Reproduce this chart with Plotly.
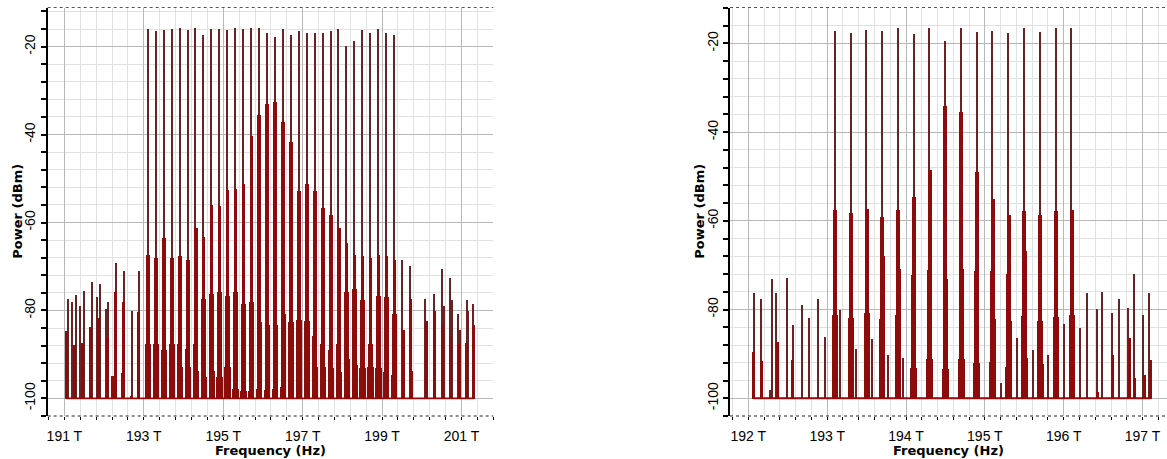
import plotly.graph_objects as go

FLOOR = -100.0

# ---------------- Spectrum A: 32-channel comb, 191-202 THz ----------------
A_CH_FREQ = [193.1, 193.3, 193.5, 193.7, 193.9, 194.1, 194.3, 194.5, 194.7, 194.9,
             195.1, 195.3, 195.5, 195.7, 195.9, 196.1, 196.3, 196.5, 196.7, 196.9,
             197.1, 197.3, 197.5, 197.7, 197.9, 198.1, 198.3, 198.5, 198.7, 198.9,
             199.1, 199.3]
A_CH_PEAK = [-15.8, -16.4, -16.2, -15.8, -15.6, -16.0, -15.6, -17.2, -15.8, -15.8,
             -16.2, -15.6, -15.8, -15.6, -15.6, -16.7, -17.6, -15.8, -17.3, -16.4,
             -16.7, -16.7, -16.7, -16.4, -15.8, -19.8, -18.6, -16.2, -16.7, -15.8,
             -16.7, -17.3]
A_CH_L2 = [-67.2, -67.9, -63.4, -67.9, -67.6, -68.4, -61.1, -63.2, -56.0, -56.2,
           -52.6, -52.3, -51.1, -40.3, -35.5, -32.9, -32.5, -37.1, -41.6, -52.8,
           -51.1, -52.8, -56.5, -58.1, -61.1, -64.6, -67.2, -67.6, -67.9, -67.2,
           -67.6, -68.4]
A_CH_L3 = [None, None, None, None, None, -76.1, -75.7, -77.2, -76.1, -75.7,
           -76.5, -75.7, -78.4, -78.0, None, None, None, None, -76.5, -75.5,
           -76.1, -76.0, -75.7, -75.4, -77.2, -75.7, -75.0, -77.6, None, -76.5,
           -76.8, None]
A_CH_L4 = [-87.5, -87.4, -88.8, -87.6, -87.4, -88.6, -87.6, -89.2, -89.3, -88.0,
           -82.3, -82.3, -82.3, -81.4, -82.6, -83.3, -83.2, -80.8, -82.6, -82.0,
           -82.3, -85.6, -87.4, -88.8, -87.4, -88.8, -87.0, -87.4, -87.4, -87.7,
           -89.7, -80.6]
A_CH_L5 = [-92.4, -92.7, -93.0, -92.8, -92.7, -92.8, -93.6, -95.1, -93.6, -95.1,
           -92.8, -97.7, -98.1, -98.1, -97.7, -97.9, -97.7, -97.4, -98.6, -97.7,
           -98.1, -92.8, -92.8, -93.0, -93.8, -90.9, -92.4, -93.0, -92.8, -93.0,
           -93.8, -94.6]

# mixing products outside the channel band
A_SIDE_FREQ = [191.10, 191.20, 191.29, 191.40, 191.49, 191.69, 191.83, 191.90,
               192.05, 192.10, 192.29, 192.49, 192.69, 192.89,
               199.51, 199.70, 200.09, 200.30, 200.50, 200.55, 200.72, 200.76,
               200.91, 200.96, 201.13, 201.17, 201.29]
A_SIDE_PWR = [-77.3, -77.9, -76.4, -78.8, -75.4, -73.5, -76.9, -73.9,
              -79.5, -78.0, -69.1, -70.8, -79.9, -71.0,
              -68.5, -69.7, -77.2, -76.1, -70.4, -78.8, -72.6, -77.6,
              -80.7, -84.4, -77.5, -79.9, -78.4]
A_SIDE_BLOCK_FREQ = [191.05, 191.24, 191.45, 191.65, 191.86, 192.07, 192.21, 192.27,
                     192.45, 192.48, 192.68, 192.87,
                     199.52, 199.72, 199.74, 200.10, 200.31, 200.51, 200.71, 200.93,
                     201.12, 201.30]
A_SIDE_BLOCK_PWR = [-84.6, -87.7, -87.2, -83.6, -81.6, -86.2, -94.8, -75.7,
                    -94.2, -78.0, -99.3, -80.3,
                    -84.4, -77.2, -93.6, -82.2, -79.9, -83.2, -85.6, -87.5,
                    -87.3, -83.3]

A_TICKS = [191, 193, 195, 197, 199, 201]
A_TICK_TEXT = ["191 T", "193 T", "195 T", "197 T", "199 T", "201 T"]

# ---------------- Spectrum B: 16-channel comb, 192-197 THz ----------------
B_CH_FREQ = [193.1, 193.3, 193.5, 193.7, 193.9, 194.1, 194.3, 194.5, 194.7, 194.9,
             195.1, 195.3, 195.5, 195.7, 195.9, 196.1]
B_CH_PEAK = [-17.0, -17.5, -16.8, -17.0, -16.4, -17.7, -16.4, -19.4, -16.4, -17.2,
             -17.0, -17.5, -16.4, -17.2, -16.4, -16.4]
B_CH_L2 = [-57.4, -58.2, -57.2, -59.1, -57.4, -54.6, -48.4, -34.1, -35.3, -48.9,
           -54.9, -58.5, -57.6, -58.5, -57.6, -57.4]
B_CH_L3 = [None, None, None, -67.9, -70.7, -72.2, -70.9, -73.0, -70.7, -71.2,
           -71.2, -71.8, -66.6, None, None, None]
B_CH_L4 = [-81.2, -81.7, -80.7, -82.0, -81.2, None, None, None, None, None,
           -82.0, -82.4, -81.4, -82.4, -81.5, -81.2]
B_CH_L5 = [None, None, None, None, None, -93.0, -91.1, -93.4, -91.1, -92.0,
           -91.8, -92.9, -90.8, -92.1, None, None]

B_SIDE_FREQ = [192.08, 192.16, 192.28, 192.30, 192.36, 192.49, 192.57, 192.69,
               192.77, 192.89, 192.97, 193.17, 193.37, 193.53, 193.57, 193.77,
               193.96, 195.21, 195.41, 195.61, 195.81, 196.01, 196.21, 196.30,
               196.42, 196.49, 196.61, 196.70, 196.82, 196.89, 197.01, 197.09]
B_SIDE_PWR = [-76.2, -77.5, -98.0, -72.9, -76.2, -72.7, -83.3, -78.8,
              -81.8, -77.5, -86.0, -80.1, -88.7, -92.6, -86.6, -90.2,
              -90.8, -96.4, -86.4, -89.0, -90.2, -83.1, -84.0, -76.2,
              -79.8, -76.0, -80.7, -77.5, -79.6, -71.8, -81.2, -76.2]
B_SIDE_BLOCK_FREQ = [192.07, 192.17, 192.37, 192.56, 196.43, 196.62, 196.83,
                     196.90, 197.02, 197.10]
B_SIDE_BLOCK_PWR = [-89.5, -91.5, -87.2, -91.2, -98.5, -90.1, -86.4,
                    -95.4, -94.7, -91.2]

B_TICKS = [192, 193, 194, 195, 196, 197]
B_TICK_TEXT = ["192 T", "193 T", "194 T", "195 T", "196 T", "197 T"]

LINE_COLOR = "#6a2222"
BLOCK_COLOR = "#8c0b0b"


def add_bars(fig, freqs, powers, width, color, xa, ya):
    pts = [(f, p) for f, p in zip(freqs, powers) if p is not None]
    if not pts:
        return
    fig.add_trace(go.Bar(
        x=[f for f, _ in pts],
        y=[p - FLOOR for _, p in pts],
        base=FLOOR,
        width=width,
        marker=dict(color=color, line=dict(width=0)),
        xaxis=xa, yaxis=ya,
        showlegend=False, hoverinfo="skip",
    ))


def add_spectrum(fig, ch_f, levels, side_f, side_p, blk_f, blk_p, px, widths, xa, ya):
    # px: data units per screen pixel on this x axis; widths in pixels
    w_line, w_side, w2, w3, w4, w5 = widths
    all_f = ch_f + side_f + blk_f
    fig.add_trace(go.Scatter(
        x=[min(all_f), max(all_f)], y=[FLOOR, FLOOR], mode="lines",
        line=dict(color=BLOCK_COLOR, width=1.8), xaxis=xa, yaxis=ya,
        showlegend=False, hoverinfo="skip",
    ))
    add_bars(fig, side_f, side_p, w_line * px, LINE_COLOR, xa, ya)
    add_bars(fig, blk_f, blk_p, w_side * px, BLOCK_COLOR, xa, ya)
    peak, l2, l3, l4, l5 = levels
    add_bars(fig, ch_f, peak, w_line * px, LINE_COLOR, xa, ya)
    add_bars(fig, ch_f, l2, w2 * px, BLOCK_COLOR, xa, ya)
    add_bars(fig, ch_f, l3, w3 * px, BLOCK_COLOR, xa, ya)
    add_bars(fig, ch_f, l4, w4 * px, BLOCK_COLOR, xa, ya)
    add_bars(fig, ch_f, l5, w5 * px, BLOCK_COLOR, xa, ya)


W, H = 1167, 459
A_DOM = [47.7 / W, 493.3 / W]
B_DOM = [730.0 / W, 1.0]
Y_DOM = [(H - 416.0) / H, (H - 7.5) / H]
A_XR = [190.58, 201.80]
B_XR = [191.768, 197.31]
A_PX = (A_XR[1] - A_XR[0]) / (493.3 - 47.7)
B_PX = (B_XR[1] - B_XR[0]) / (W - 730.0)

fig = go.Figure()
add_spectrum(fig, A_CH_FREQ, (A_CH_PEAK, A_CH_L2, A_CH_L3, A_CH_L4, A_CH_L5),
             A_SIDE_FREQ, A_SIDE_PWR, A_SIDE_BLOCK_FREQ, A_SIDE_BLOCK_PWR,
             A_PX, (1.5, 3.0, 3.6, 4.4, 5.2, 6.2), "x", "y")
add_spectrum(fig, B_CH_FREQ, (B_CH_PEAK, B_CH_L2, B_CH_L3, B_CH_L4, B_CH_L5),
             B_SIDE_FREQ, B_SIDE_PWR, B_SIDE_BLOCK_FREQ, B_SIDE_BLOCK_PWR,
             B_PX, (1.5, 2.8, 4.0, 5.0, 6.0, 7.0), "x2", "y2")

TICK_FONT = dict(family="Liberation Sans, Arial, sans-serif", size=14, color="#000")
TITLE_FONT = dict(family="DejaVu Sans, Verdana, sans-serif", size=13, color="#000")
MAJOR_GRID = "#b8b8b8"
MINOR_GRID = "#e1e1e1"


def x_axis(dom, rng, ticks, text, minor_step, anchor):
    return dict(
        domain=dom, range=rng, anchor=anchor,
        tickmode="array", tickvals=ticks, ticktext=text,
        showgrid=True, gridcolor=MAJOR_GRID, gridwidth=1,
        showline=False, zeroline=False,
        ticks="outside", ticklen=3, tickcolor="#000", tickwidth=1,
        tickfont=TICK_FONT, ticklabelstandoff=4,
        minor=dict(dtick=minor_step, tick0=ticks[0], showgrid=True,
                   gridcolor=MINOR_GRID, gridwidth=1, ticks="outside",
                   ticklen=3, tickcolor="#000"),
    )


def y_axis(rng, anchor):
    return dict(
        domain=Y_DOM, range=rng, anchor=anchor,
        tickmode="array", tickvals=[-100, -80, -60, -40, -20],
        ticktext=["-100", "-80", "-60", "-40", "-20"], tickangle=-90,
        showgrid=True, gridcolor=MAJOR_GRID, gridwidth=1,
        showline=True, linecolor="#000", linewidth=1.5,
        zeroline=False,
        ticks="outside", ticklen=5, tickcolor="#000", tickwidth=1.5,
        tickfont=TICK_FONT,
        minor=dict(dtick=4, tick0=-100, showgrid=True, gridcolor=MINOR_GRID,
                   gridwidth=1, ticks="outside", ticklen=5, tickcolor="#000"),
    )


fig.update_layout(
    width=W, height=H,
    margin=dict(l=0, r=0, t=0, b=0),
    paper_bgcolor="#fff", plot_bgcolor="#fff",
    barmode="overlay", bargap=0,
    xaxis=x_axis(A_DOM, A_XR, A_TICKS, A_TICK_TEXT, 0.4, "y"),
    yaxis=y_axis([-104.0, -11.1], "x"),
    xaxis2=x_axis(B_DOM, B_XR, B_TICKS, B_TICK_TEXT, 0.2, "y2"),
    yaxis2=y_axis([-104.0, -11.9], "x2"),
)

# dotted frame lines along the top and bottom of each plot
for xr, yr in (("x", "y"), ("x2", "y2")):
    for yy, col in ((0, "#222"), (1, "#555")):
        fig.add_shape(type="line", xref=f"{xr} domain", yref=f"{yr} domain",
                      x0=0, x1=1, y0=yy, y1=yy,
                      line=dict(color=col, width=1, dash="dot"))

# axis titles
for xc in (sum(A_DOM) / 2, sum(B_DOM) / 2):
    fig.add_annotation(text="<b>Frequency (Hz)</b>", xref="paper", yref="paper",
                       x=xc, y=(H - 450) / H, showarrow=False, font=TITLE_FONT,
                       xanchor="center", yanchor="middle")
for xp in (18, 700):
    fig.add_annotation(text="<b>Power (dBm)</b>", xref="paper", yref="paper",
                       x=xp / W, y=sum(Y_DOM) / 2, showarrow=False, font=TITLE_FONT,
                       textangle=-90, xanchor="center", yanchor="middle")

fig.write_html("out.html")
